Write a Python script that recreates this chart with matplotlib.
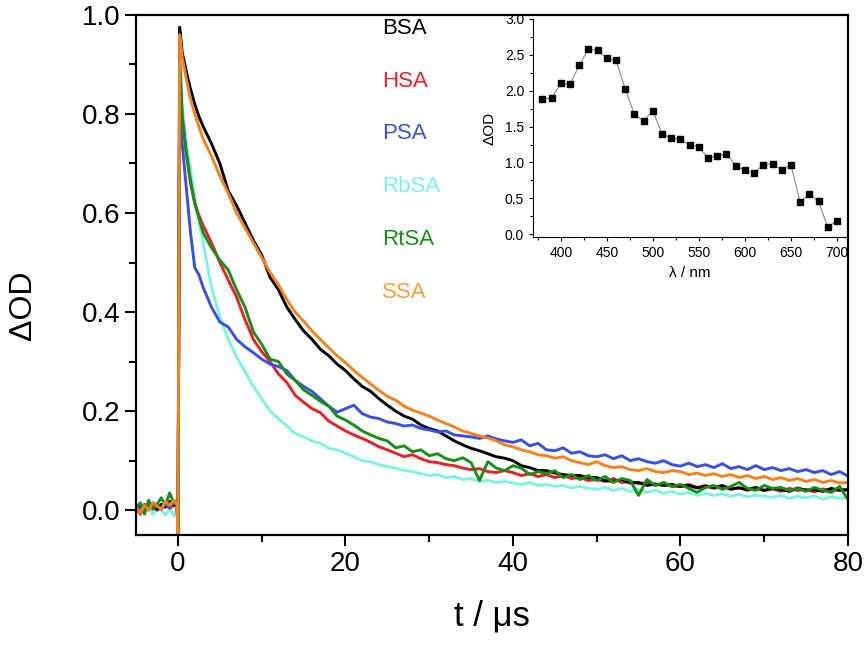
import matplotlib
matplotlib.use('Agg')
import matplotlib.pyplot as plt
from matplotlib.ticker import MultipleLocator

plt.rcParams['font.family'] = ['Liberation Sans', 'DejaVu Sans']

# time axis (us): pre-trigger, the flash, then one point per microsecond
t = [-5.0, -4.5, -4.0, -3.5, -3.0, -2.5, -2.0, -1.5, -1.0, -0.5,
     -0.1, 0.0, 0.2, 0.5, 1.0, 1.5, 2.0, 2.5, 3.0,
     4, 5, 6, 7, 8, 9, 10, 11, 12, 13,
     14, 15, 16, 17, 18, 19, 20, 21, 22, 23,
     24, 25, 26, 27, 28, 29, 30, 31, 32, 33,
     34, 35, 36, 37, 38, 39, 40, 41, 42, 43,
     44, 45, 46, 47, 48, 49, 50, 51, 52, 53,
     54, 55, 56, 57, 58, 59, 60, 61, 62, 63,
     64, 65, 66, 67, 68, 69, 70, 71, 72, 73,
     74, 75, 76, 77, 78, 79, 80]

bsa = [0.000, 0.010, 0.004, 0.015, 0.008, 0.002, 0.012, 0.006, 0.018, 0.010,
       0.014, -0.06, 0.975, 0.925, 0.885, 0.850, 0.820, 0.795, 0.775,
       0.740, 0.700, 0.645, 0.615, 0.580, 0.545, 0.515, 0.470, 0.445, 0.410,
       0.385, 0.362, 0.345, 0.325, 0.312, 0.295, 0.282, 0.265, 0.250, 0.240,
       0.225, 0.212, 0.200, 0.190, 0.184, 0.172, 0.165, 0.160, 0.150, 0.140,
       0.132, 0.125, 0.120, 0.114, 0.108, 0.105, 0.100, 0.090, 0.086, 0.080,
       0.080, 0.075, 0.072, 0.070, 0.070, 0.066, 0.066, 0.060, 0.058, 0.062,
       0.055, 0.056, 0.050, 0.053, 0.050, 0.052, 0.048, 0.050, 0.045, 0.048,
       0.046, 0.050, 0.043, 0.045, 0.042, 0.046, 0.040, 0.044, 0.042, 0.038,
       0.045, 0.040, 0.042, 0.038, 0.044, 0.040, 0.042]

hsa = [0.005, -0.008, 0.010, 0.002, 0.012, 0.000, 0.008, 0.015, 0.004, 0.010,
       0.008, -0.06, 0.900, 0.800, 0.720, 0.660, 0.620, 0.595, 0.575,
       0.540, 0.500, 0.465, 0.430, 0.385, 0.345, 0.320, 0.300, 0.275, 0.258,
       0.232, 0.218, 0.205, 0.197, 0.180, 0.170, 0.160, 0.152, 0.145, 0.137,
       0.128, 0.122, 0.115, 0.108, 0.112, 0.104, 0.098, 0.096, 0.092, 0.090,
       0.085, 0.082, 0.084, 0.078, 0.076, 0.080, 0.076, 0.070, 0.074, 0.068,
       0.072, 0.066, 0.070, 0.064, 0.066, 0.060, 0.062, 0.058, 0.064, 0.056,
       0.058, 0.054, 0.056, 0.050, 0.054, 0.048, 0.048, 0.052, 0.046, 0.050,
       0.044, 0.048, 0.042, 0.046, 0.040, 0.044, 0.040, 0.043, 0.038, 0.044,
       0.040, 0.042, 0.037, 0.043, 0.038, 0.042, 0.040]

psa = [0.010, 0.000, 0.012, 0.005, 0.015, 0.010, 0.002, 0.012, 0.006, 0.015,
       0.010, -0.06, 0.800, 0.740, 0.650, 0.560, 0.490, 0.475, 0.450,
       0.410, 0.380, 0.370, 0.345, 0.330, 0.318, 0.305, 0.295, 0.290, 0.282,
       0.262, 0.250, 0.240, 0.225, 0.210, 0.198, 0.205, 0.212, 0.195, 0.188,
       0.185, 0.178, 0.175, 0.170, 0.172, 0.165, 0.162, 0.158, 0.160, 0.152,
       0.150, 0.148, 0.145, 0.150, 0.144, 0.140, 0.137, 0.142, 0.130, 0.135,
       0.122, 0.120, 0.126, 0.115, 0.118, 0.110, 0.108, 0.112, 0.104, 0.110,
       0.100, 0.104, 0.098, 0.095, 0.100, 0.092, 0.089, 0.095, 0.088, 0.092,
       0.086, 0.094, 0.084, 0.088, 0.082, 0.090, 0.082, 0.086, 0.080, 0.084,
       0.078, 0.082, 0.076, 0.080, 0.072, 0.078, 0.069]

rbsa = [-0.005, 0.008, 0.000, 0.010, -0.008, 0.004, 0.000, -0.010, 0.005, -0.012,
        0.005, -0.06, 0.975, 0.820, 0.740, 0.690, 0.630, 0.585, 0.540,
        0.450, 0.390, 0.345, 0.310, 0.280, 0.250, 0.225, 0.200, 0.185, 0.170,
        0.155, 0.148, 0.140, 0.135, 0.125, 0.122, 0.115, 0.108, 0.100, 0.098,
        0.092, 0.088, 0.085, 0.080, 0.078, 0.074, 0.070, 0.072, 0.066, 0.068,
        0.062, 0.064, 0.058, 0.060, 0.056, 0.058, 0.055, 0.052, 0.056, 0.050,
        0.052, 0.048, 0.050, 0.045, 0.048, 0.044, 0.042, 0.046, 0.040, 0.044,
        0.038, 0.042, 0.036, 0.040, 0.034, 0.038, 0.032, 0.036, 0.030, 0.034,
        0.030, 0.033, 0.028, 0.032, 0.027, 0.030, 0.028, 0.026, 0.030, 0.024,
        0.028, 0.025, 0.029, 0.022, 0.027, 0.024, 0.026]

rtsa = [0.005, 0.015, -0.008, 0.020, 0.002, 0.012, 0.025, 0.010, 0.035, 0.015,
        0.020, -0.06, 0.900, 0.790, 0.720, 0.665, 0.620, 0.590, 0.560,
        0.530, 0.505, 0.485, 0.445, 0.410, 0.360, 0.335, 0.305, 0.300, 0.275,
        0.262, 0.243, 0.232, 0.220, 0.210, 0.190, 0.182, 0.172, 0.160, 0.152,
        0.145, 0.140, 0.126, 0.130, 0.118, 0.122, 0.110, 0.114, 0.104, 0.100,
        0.106, 0.096, 0.060, 0.098, 0.085, 0.080, 0.090, 0.085, 0.072, 0.078,
        0.074, 0.080, 0.066, 0.072, 0.062, 0.070, 0.060, 0.068, 0.056, 0.064,
        0.060, 0.030, 0.062, 0.050, 0.056, 0.048, 0.052, 0.044, 0.036, 0.046,
        0.050, 0.042, 0.048, 0.056, 0.044, 0.040, 0.050, 0.044, 0.046, 0.040,
        0.044, 0.038, 0.046, 0.040, 0.036, 0.048, 0.022]

ssa = [0.005, -0.005, 0.010, 0.000, 0.015, 0.008, 0.003, 0.018, 0.010, 0.020,
       0.012, -0.06, 0.960, 0.915, 0.870, 0.830, 0.800, 0.775, 0.750,
       0.715, 0.675, 0.640, 0.600, 0.570, 0.540, 0.510, 0.480, 0.455, 0.425,
       0.400, 0.382, 0.362, 0.345, 0.328, 0.312, 0.298, 0.282, 0.268, 0.255,
       0.242, 0.230, 0.222, 0.210, 0.202, 0.196, 0.190, 0.182, 0.175, 0.168,
       0.160, 0.155, 0.150, 0.146, 0.140, 0.132, 0.128, 0.122, 0.118, 0.112,
       0.110, 0.105, 0.108, 0.100, 0.096, 0.092, 0.098, 0.090, 0.086, 0.088,
       0.082, 0.080, 0.084, 0.078, 0.076, 0.080, 0.078, 0.072, 0.075, 0.070,
       0.074, 0.068, 0.072, 0.066, 0.070, 0.064, 0.068, 0.062, 0.066, 0.060,
       0.064, 0.058, 0.062, 0.056, 0.060, 0.055, 0.056]

# inset: transient spectrum
wl = [380, 390, 400, 410, 420, 430, 440, 450, 460, 470, 480, 490, 500,
      510, 520, 530, 540, 550, 560, 570, 580, 590, 600, 610, 620, 630,
      640, 650, 660, 670, 680, 690, 700]
spec = [1.88, 1.90, 2.10, 2.09, 2.35, 2.58, 2.56, 2.45, 2.42, 2.02, 1.67,
        1.58, 1.72, 1.40, 1.34, 1.32, 1.25, 1.22, 1.06, 1.09, 1.12, 0.95,
        0.89, 0.85, 0.97, 0.98, 0.90, 0.97, 0.45, 0.56, 0.46, 0.10, 0.19]

names = ['BSA', 'HSA', 'PSA', 'RbSA', 'RtSA', 'SSA']
colors = {'BSA': 'black', 'HSA': '#e8202a', 'PSA': '#3a4fe6',
          'RbSA': '#7ff2e2', 'RtSA': '#1a8c1a', 'SSA': '#f5821f'}
label_colors = dict(colors, SSA='#eea33a')
series = {'BSA': bsa, 'HSA': hsa, 'PSA': psa, 'RbSA': rbsa,
          'RtSA': rtsa, 'SSA': ssa}

fig = plt.figure(figsize=(8.67, 6.48), dpi=100)
ax = fig.add_axes([0.157, 0.1744, 0.821, 0.8026])

for name in ['RbSA', 'HSA', 'BSA', 'PSA', 'RtSA', 'SSA']:
    ax.plot(t, series[name], color=colors[name], lw=2.1)

ax.set_xlim(-5, 80)
ax.set_ylim(-0.05, 1.0)
ax.xaxis.set_major_locator(MultipleLocator(20))
ax.xaxis.set_minor_locator(MultipleLocator(10))
ax.yaxis.set_major_locator(MultipleLocator(0.2))
ax.yaxis.set_minor_locator(MultipleLocator(0.1))
ax.yaxis.set_major_formatter(plt.FormatStrFormatter('%.1f'))
ax.tick_params(which='major', direction='out', length=8, width=1.5,
               labelsize=20)
ax.tick_params(which='minor', direction='out', length=5, width=1.5)
for s in ax.spines.values():
    s.set_linewidth(1.6)
ax.set_xlabel('t / μs', fontsize=25, labelpad=16)
fig.text(0.027, 1 - 305 / 648, 'ΔOD', rotation=90, fontsize=23,
         ha='center', va='center')

# series labels stacked in the upper middle
label_y = [0.972, 0.866, 0.760, 0.653, 0.546, 0.439]
for name, yy in zip(names, label_y):
    ax.text(24.4, yy, name, color=label_colors[name], fontsize=16,
            ha='left', va='center')

# inset
ins = fig.add_axes([0.615, 0.634, 0.362, 0.337])
ins.patch.set_alpha(0)
ins.plot(wl, spec, color='#888888', lw=0.8, marker='s', ms=4,
         mfc='black', mec='black')
ins.set_xlim(370, 711)
ins.set_ylim(-0.04, 3.0)
ins.spines['top'].set_visible(False)
ins.spines['right'].set_visible(False)
ins.xaxis.set_major_locator(MultipleLocator(50))
ins.xaxis.set_minor_locator(MultipleLocator(25))
ins.yaxis.set_major_locator(MultipleLocator(0.5))
ins.yaxis.set_minor_locator(MultipleLocator(0.25))
ins.yaxis.set_major_formatter(plt.FormatStrFormatter('%.1f'))
ins.tick_params(which='major', direction='out', length=3, width=0.8,
                labelsize=10)
ins.tick_params(which='minor', direction='out', length=2, width=0.8)
ins.set_xlabel('λ / nm', fontsize=11, labelpad=4)
ins.set_ylabel('ΔOD', fontsize=11, labelpad=6)

fig.savefig('out.png', dpi=100)
